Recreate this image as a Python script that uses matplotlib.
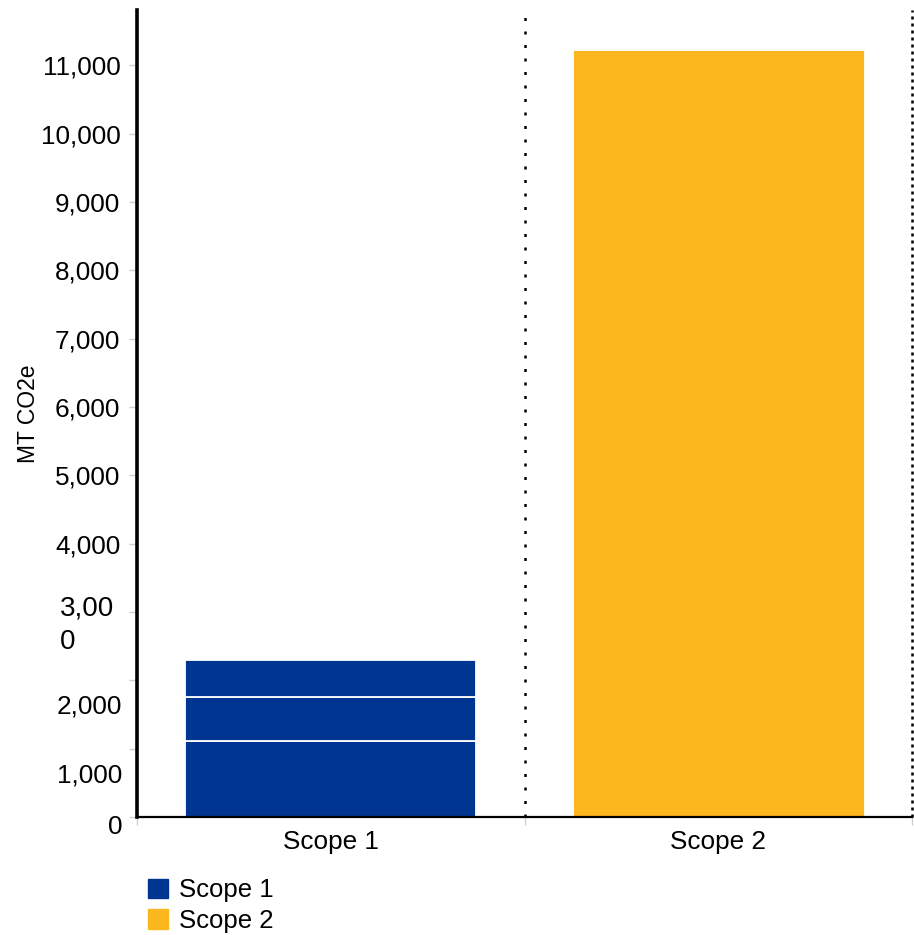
import matplotlib.pyplot as plt
from matplotlib.transforms import ScaledTranslation

# data
categories = ['Scope 1', 'Scope 2']
scope1_parts = [1112, 644, 537]   # stacked pieces of the Scope 1 bar
scope2_total = 11225
yticks = list(range(0, 12000, 1000))
ytick_labels = [f'{v:,}' for v in yticks]
ytick_labels[3] = '3,00\n0'

blue = '#003591'
gold = '#FDB71E'

plt.rcParams['font.family'] = ['Liberation Sans', 'DejaVu Sans']

fig = plt.figure(figsize=(9.14, 9.35), dpi=100)
W, H = 914, 935
ax = fig.add_axes([137 / W, 1 - 817 / H, (912 - 137) / W, (817 - 10) / H])

x = [0, 1]
bottom = 0
for part in scope1_parts:
    ax.bar(x[0], part, bottom=bottom, width=0.75, color=blue,
           edgecolor='white', linewidth=1.3)
    bottom += part
ax.bar(x[1], scope2_total, width=0.75, color=gold, edgecolor='white', linewidth=0.6)

ax.set_xlim(-0.5, 1.5)
ax.set_ylim(0, 11810)

# dotted category separators
ax.axvline(0.5, color='black', lw=1.8, dashes=(1.2, 4.2))
ax.axvline(1.5, color='black', lw=1.8, dashes=(1.2, 1.6), clip_on=False)

for s in ['top', 'right']:
    ax.spines[s].set_visible(False)
ax.spines['left'].set_linewidth(2.6)
ax.spines['bottom'].set_linewidth(1.6)

ax.set_yticks(yticks)
ax.set_yticklabels(ytick_labels, fontsize=18.8)
ax.tick_params(axis='y', length=6, width=1, color='#d0d0d0', pad=6)
ax.set_xticks([-0.5, 0.5, 1.5], minor=False)
ax.set_xticklabels(['', '', ''])
ax.tick_params(axis='x', length=6, width=1, color='#d0d0d0')
ax.set_xticks([0, 1], minor=True)
ax.set_xticklabels(categories, minor=True, fontsize=18.8)
ax.tick_params(axis='x', which='minor', length=0, pad=9)

# the odd label offsets of the original renderer
offsets = {0: (2, -8), 1: (2, -24), 2: (2, -24), 3: (-6, -6)}
for i, lab in enumerate(ax.get_yticklabels()):
    if i in offsets:
        dx, dy = offsets[i]
        lab.set_transform(lab.get_transform() +
                          ScaledTranslation(dx / 100, dy / 100, fig.dpi_scale_trans))
    if i == 3:
        lab.set_multialignment('left')
        lab.set_linespacing(1.4)
        lab.set_fontsize(20)

ax.set_ylabel('MT CO2e', fontsize=16.5)
ax.yaxis.set_label_coords(-97 / 775, 0.5)

handles = [plt.Rectangle((0, 0), 1, 1, color=blue), plt.Rectangle((0, 0), 1, 1, color=gold)]
fig.legend(handles, categories, loc='upper left', bbox_to_anchor=(138 / W, 1 - 868 / H),
           frameon=False, fontsize=18.5, handlelength=0.75, handleheight=0.8,
           handletextpad=0.45, labelspacing=0.25, borderaxespad=0)

fig.savefig('out.png', dpi=100)
